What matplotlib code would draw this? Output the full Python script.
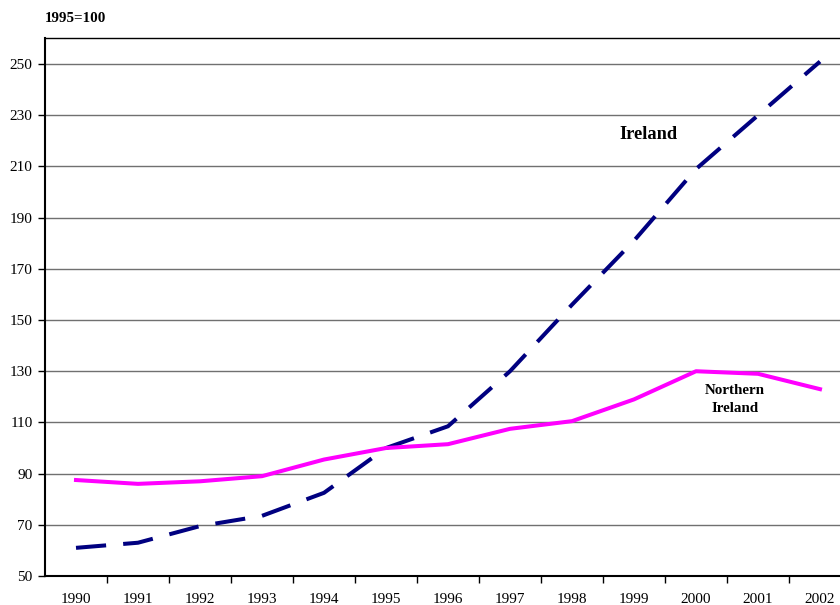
import matplotlib
matplotlib.use("Agg")
import matplotlib.pyplot as plt
import numpy as np

years = ["1990", "1991", "1992", "1993", "1994", "1995", "1996",
         "1997", "1998", "1999", "2000", "2001", "2002"]
ireland = [61, 63, 69.5, 73.5, 82.5, 100, 108.5, 130, 156, 181, 209, 230, 251]
northern_ireland = [87.5, 86, 87, 89, 95.5, 100, 101.5, 107.5, 110.5, 119, 130, 129, 123]
yticks = [50, 70, 90, 110, 130, 150, 170, 190, 210, 230, 250]

plt.rcParams['font.family'] = ['Liberation Serif', 'DejaVu Serif']

fig = plt.figure(figsize=(8.4, 6.05), dpi=100)
ax = fig.add_axes([45/840, 29/605, 806/840, 538/605])

x = np.arange(len(years))
ax.plot(x, ireland, color='#000080', lw=2.9, dashes=(7.5, 4.25), solid_capstyle='butt', zorder=3)
ax.plot(x, northern_ireland, color='#FF00FF', lw=2.9, zorder=3)

ax.set_xlim(-0.5, len(years) - 0.5)
ax.set_ylim(50, 260.2)
ax.set_yticks(yticks)
ax.set_yticklabels([str(v) for v in yticks], fontsize=11)
ax.set_xticks(x)
ax.set_xticklabels(years, fontsize=11)
ax.set_xticks(np.arange(len(years)) + 0.5, minor=True)
ax.tick_params(axis='x', which='major', length=0, pad=12)
ax.tick_params(axis='x', which='minor', length=5, direction='out', width=1)
ax.tick_params(axis='y', length=5, direction='out', width=1, pad=4)
ax.grid(axis='y', color='#707070', lw=1)
ax.set_axisbelow(True)

for s in ['left', 'bottom']:
    ax.spines[s].set_linewidth(1.5)
    ax.spines[s].set_color('black')
ax.spines['top'].set_linewidth(1)
ax.spines['right'].set_visible(False)

fig.text(45/840, 1 - 18/605, "1995=100", fontsize=10.8, fontweight='bold', va='center', ha='left')
ax.text(9.23, 222.5, "Ireland", fontsize=13.2, fontweight='bold', ha='center', va='center')
ax.text(10.63, 119, "Northern\nIreland", fontsize=10.8, fontweight='bold', ha='center', va='center', linespacing=1.5)

fig.savefig("out.png", dpi=100)
